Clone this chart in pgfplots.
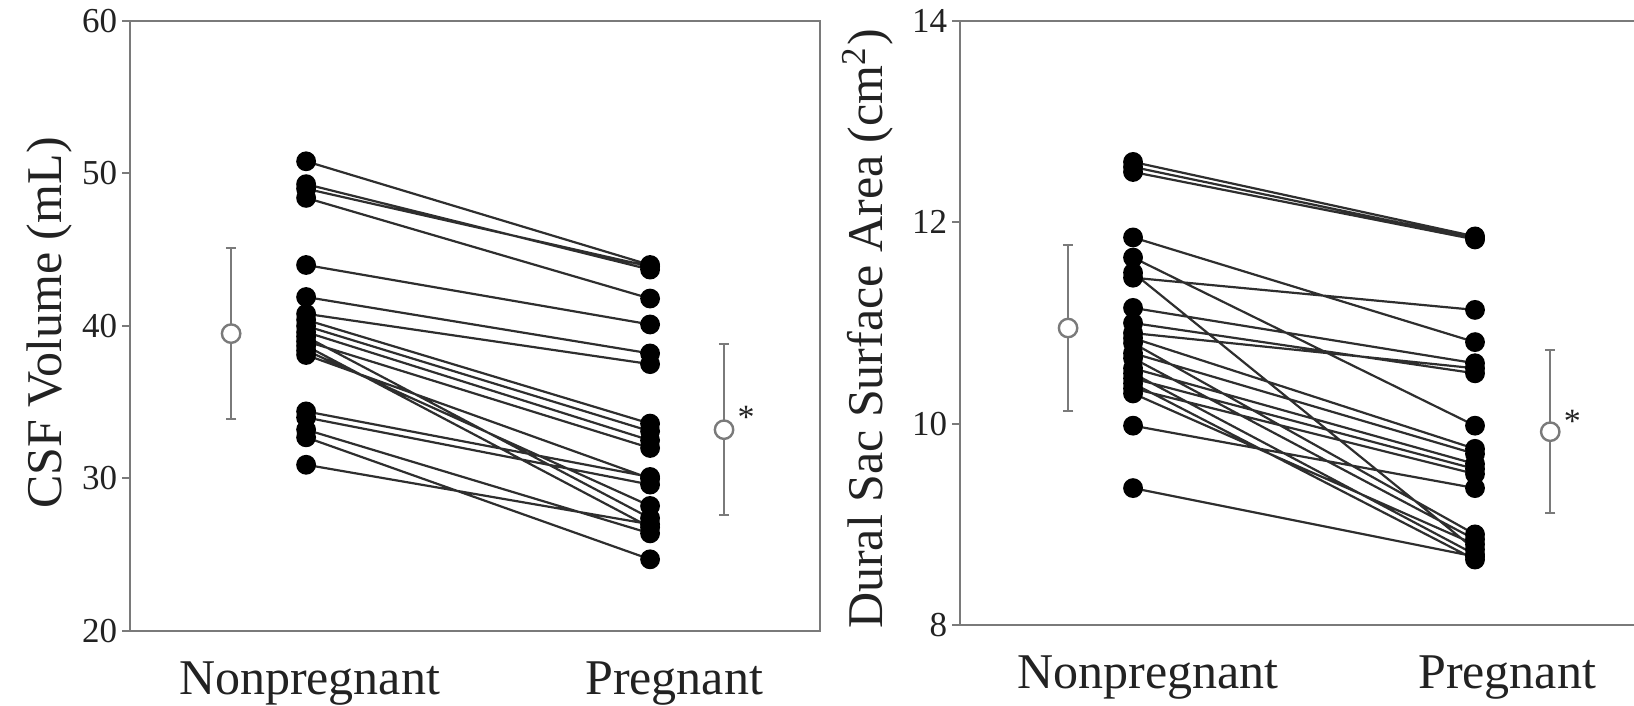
\documentclass[border=0pt]{standalone}
\usepackage{fontspec}
\setmainfont{Liberation Serif}
\usepackage{pgfplots}
\pgfplotsset{compat=1.18}

\definecolor{axgray}{HTML}{7A7A7A}
\definecolor{txt}{HTML}{222222}
\definecolor{ln}{HTML}{2E2E2E}

% 1 px of the 1634x705 reference = 0.25pt
\pgfplotsset{
  panel/.style={
    scale only axis,
    anchor=south west,
    clip=false,
    axis line style={axgray, line width=0.55pt},
    xtick style={draw=none},
    xticklabels={Nonpregnant,Pregnant},
    ytick pos=left,
    tick align=outside,
    major tick length=2pt,
    ytick style={axgray, line width=0.5pt},
    /pgf/number format/assume math mode=true,
    yticklabel style={font=\fontsize{8.75}{10}\selectfont, text=txt, inner sep=1pt},
    xticklabel style={font=\fontsize{12.5}{14}\selectfont, text=txt, inner sep=0pt, anchor=north, yshift=-5.5pt},
    ylabel style={font=\fontsize{12.5}{14}\selectfont, text=txt, rotate=0, anchor=center},
  },
  pairs/.style={ln, line width=0.55pt, mark=*, mark size=2.2pt,
    mark options={fill=black, draw=black, solid}, unbounded coords=jump},
  means/.style={only marks, mark=*, mark size=2.3pt,
    mark options={fill=white, draw=axgray, line width=0.6pt},
    error bars/.cd, y dir=both, y explicit,
    error bar style={axgray, line width=0.5pt},
    error mark options={rotate=90, mark size=1.3pt, axgray, line width=0.5pt}},
}

\begin{document}
\begin{tikzpicture}
\path[use as bounding box] (0,0) rectangle (408.5pt,176.25pt);
\clip (0,0) rectangle (408.5pt,176.25pt);

% ---- left panel: CSF volume
\begin{axis}[panel,
  at={(32.5pt,18.5pt)}, width=172.5pt, height=152.5pt,
  xmin=0.488, xmax=2.494, ymin=20, ymax=60,
  xtick={1.01,2.07},
  ytick={20,30,40,50,60},
  ylabel={CSF Volume (mL)},
  ylabel style={at={(axis description cs:-0.116,0.505)}},
]
\addplot+[pairs] coordinates {
  (1,50.8) (2,44.0) (1.5,nan)
  (1,49.3) (2,43.7) (1.5,nan)
  (1,49.0) (2,43.9) (1.5,nan)
  (1,48.4) (2,41.8) (1.5,nan)
  (1,44.0) (2,40.1) (1.5,nan)
  (1,41.9) (2,38.2) (1.5,nan)
  (1,40.8) (2,37.5) (1.5,nan)
  (1,40.4) (2,33.6) (1.5,nan)
  (1,40.0) (2,33.1) (1.5,nan)
  (1,39.6) (2,32.5) (1.5,nan)
  (1,39.3) (2,27.4) (1.5,nan)
  (1,39.0) (2,32.0) (1.5,nan)
  (1,38.7) (2,26.8) (1.5,nan)
  (1,38.4) (2,28.2) (1.5,nan)
  (1,38.1) (2,30.0) (1.5,nan)
  (1,34.4) (2,30.1) (1.5,nan)
  (1,34.0) (2,29.6) (1.5,nan)
  (1,33.2) (2,26.4) (1.5,nan)
  (1,32.7) (2,24.7) (1.5,nan)
  (1,30.9) (2,27.0)
};
\addplot+[means] coordinates {
  (0.782,39.5) +- (0,5.6)
  (2.215,33.2) +- (0,5.6)
};
\node[font=\fontsize{8.5}{10}\selectfont, text=txt, xshift=5.5pt, yshift=3pt]
  at (axis cs:2.215,33.2) {*};
\end{axis}

% ---- right panel: dural sac surface area (right spine is cut off)
\begin{axis}[panel,
  at={(240pt,20pt)}, width=168.5pt, height=151pt,
  axis x line*=box, axis y line*=left,
  xmin=0.494, xmax=2.465, ymin=8, ymax=14,
  xtick={1.044,2.094},
  ytick={8,10,12,14},
  ylabel={Dural Sac Surface Area (cm\textsuperscript{2})},
  ylabel style={at={(axis description cs:-0.1365,0.49)}},
]
\addplot+[pairs] coordinates {
  (1,12.60) (2,11.86) (1.5,nan)
  (1,12.55) (2,11.84) (1.5,nan)
  (1,12.50) (2,11.83) (1.5,nan)
  (1,11.85) (2,10.81) (1.5,nan)
  (1,11.65) (2,9.98) (1.5,nan)
  (1,11.50) (2,8.75) (1.5,nan)
  (1,11.45) (2,11.13) (1.5,nan)
  (1,11.15) (2,10.60) (1.5,nan)
  (1,11.00) (2,10.50) (1.5,nan)
  (1,10.90) (2,10.55) (1.5,nan)
  (1,10.85) (2,9.75) (1.5,nan)
  (1,10.80) (2,8.90) (1.5,nan)
  (1,10.70) (2,9.70) (1.5,nan)
  (1,10.65) (2,8.85) (1.5,nan)
  (1,10.55) (2,9.60) (1.5,nan)
  (1,10.50) (2,8.70) (1.5,nan)
  (1,10.45) (2,9.55) (1.5,nan)
  (1,10.40) (2,8.65) (1.5,nan)
  (1,10.35) (2,9.50) (1.5,nan)
  (1,10.30) (2,8.80) (1.5,nan)
  (1,9.98) (2,9.36) (1.5,nan)
  (1,9.36) (2,8.68)
};
\addplot+[means] coordinates {
  (0.81,10.95) +- (0,0.82)
  (2.22,9.92) +- (0,0.81)
};
\node[font=\fontsize{8.5}{10}\selectfont, text=txt, xshift=5.5pt, yshift=2.5pt]
  at (axis cs:2.22,9.92) {*};
\end{axis}
\end{tikzpicture}
\end{document}
